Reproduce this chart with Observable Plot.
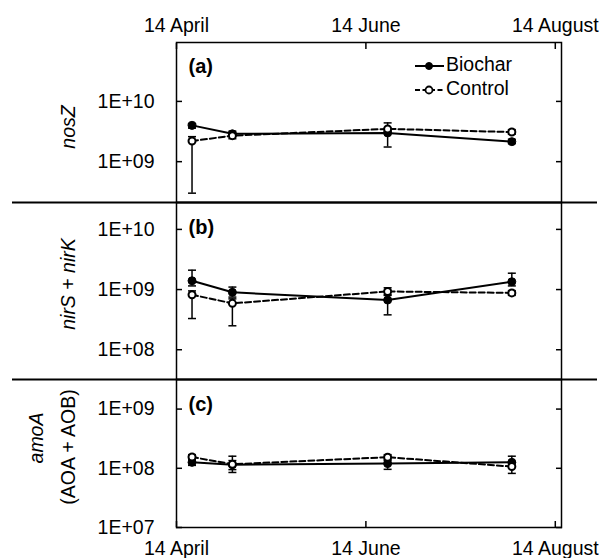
<!DOCTYPE html>
<html><head><meta charset="utf-8">
<script src="https://cdn.jsdelivr.net/npm/d3@7"></script>
<script src="https://cdn.jsdelivr.net/npm/@observablehq/plot@0.6"></script>
<style>
body{margin:0;background:#fff;}
#chart{position:relative;width:612px;height:558px;font-family:"Liberation Sans",Arial,sans-serif;}
#chart svg{position:absolute;left:0;}
</style></head><body><div id="chart"></div>
<script>
// ---- data ----
const sampleDates = ["2012-04-19", "2012-05-02", "2012-06-21", "2012-07-31"];
const tickDates = ["2012-04-14", "2012-06-14", "2012-08-14"];
const tickLabels = ["14 April", "14 June", "14 August"];
const xDomain = ["2012-04-14", "2012-08-16"];
const seriesNames = ["Biochar", "Control"];

// nosZ (a)
const nosZBiochar   = [4.0e9, 2.9e9, 3.0e9, 2.15e9];
const nosZBiocharLo = [3.6e9, 2.65e9, 1.75e9, 2.0e9];
const nosZBiocharHi = [4.3e9, 3.2e9, 3.5e9, 2.35e9];
const nosZControl   = [2.2e9, 2.7e9, 3.5e9, 3.1e9];
const nosZControlLo = [3.0e8, 2.4e9, 3.2e9, 2.85e9];
const nosZControlHi = [2.6e9, 3.0e9, 4.4e9, 3.4e9];
const nosZTicks = [1e9, 1e10];
const nosZDomain = [2.1e8, 9.5e10];

// nirS + nirK (b)
const nirBiochar   = [1.4e9, 9.0e8, 6.7e8, 1.35e9];
const nirBiocharLo = [1.15e9, 7.5e8, 3.8e8, 1.15e9];
const nirBiocharHi = [2.1e9, 1.1e9, 8.0e8, 1.87e9];
const nirControl   = [8.2e8, 5.9e8, 9.3e8, 8.8e8];
const nirControlLo = [3.3e8, 2.5e8, 8.2e8, 8.0e8];
const nirControlHi = [9.5e8, 7.0e8, 1.07e9, 9.6e8];
const nirTicks = [1e8, 1e9, 1e10];
const nirDomain = [3.2e7, 2.8e10];

// amoA (c)
const amoBiochar   = [1.26e8, 1.15e8, 1.2e8, 1.26e8];
const amoBiocharLo = [1.12e8, 9.5e7, 9.6e7, 1.1e8];
const amoBiocharHi = [1.4e8, 1.35e8, 1.4e8, 1.6e8];
const amoControl   = [1.55e8, 1.17e8, 1.54e8, 1.07e8];
const amoControlLo = [1.4e8, 8.5e7, 1.35e8, 8.2e7];
const amoControlHi = [1.7e8, 1.6e8, 1.7e8, 1.25e8];
const amoTicks = [1e7, 1e8, 1e9];
const amoDomain = [1e7, 3.16e9];

// ---- helpers ----
const FS = "19.5px";
const parse = s => new Date(s + "T00:00:00Z");
const ticks = tickDates.map(parse);
const tickFmt = d => tickLabels[ticks.findIndex(t => +t === +d)];
const yFmt = d => "1E+" + String(Math.round(Math.log10(d))).padStart(2, "0");
const cap = {draw(ctx) { ctx.moveTo(-4, 0); ctx.lineTo(4, 0); }};

function rows(b, bLo, bHi, c, cLo, cHi) {
  const out = [];
  sampleDates.forEach((d, i) => {
    out.push({series: seriesNames[0], date: parse(d), value: b[i], lo: bLo[i], hi: bHi[i]});
    out.push({series: seriesNames[1], date: parse(d), value: c[i], lo: cLo[i], hi: cHi[i]});
  });
  return out;
}

const W = 612, ML = 176, MR = 51;
const chart = document.getElementById("chart");

function panel({top, height, marginTop, marginBottom, domain, yTicks, data, label, labelDy, axis, divider}) {
  const bio = data.filter(d => d.series === "Biochar");
  const con = data.filter(d => d.series === "Control");
  const marks = [
    Plot.frame({stroke: "black", strokeWidth: 1.5}),
    Plot.axisY(yTicks, {anchor: "left", tickSize: 0, tickPadding: 22, tickFormat: yFmt, label: null}),
    Plot.axisY(yTicks, {anchor: "left", tickSize: -6, tickFormat: () => "", label: null, strokeWidth: 1.5}),
    Plot.axisY(yTicks, {anchor: "right", tickSize: -6, tickFormat: () => "", label: null, strokeWidth: 1.5}),
  ];
  if (axis) {
    marks.push(Plot.axisX(ticks, {anchor: axis, tickSize: 0, tickPadding: axis === "top" ? 11 : 14, tickFormat: tickFmt, label: null}));
    marks.push(Plot.axisX(ticks, {anchor: axis, tickSize: -6, tickFormat: () => "", label: null, strokeWidth: 1.5}));
  }
  if (divider) {
    marks.push(Plot.ruleY([domain[1]], {insetLeft: -164, insetRight: -36, stroke: "black", strokeWidth: 2}));
  }
  marks.push(
    Plot.ruleX(data, {x: "date", y1: "lo", y2: "hi", stroke: "black", strokeWidth: 1.5}),
    Plot.dot(data, {x: "date", y: "lo", symbol: cap, r: 4, fill: "none", stroke: "black", strokeWidth: 1.5}),
    Plot.dot(data, {x: "date", y: "hi", symbol: cap, r: 4, fill: "none", stroke: "black", strokeWidth: 1.5}),
    Plot.line(bio, {x: "date", y: "value", stroke: "black", strokeWidth: 2}),
    Plot.line(con, {x: "date", y: "value", stroke: "black", strokeWidth: 2, strokeDasharray: "6,3"}),
    Plot.dot(bio, {x: "date", y: "value", r: 4, fill: "black", stroke: "black", strokeWidth: 1}),
    Plot.dot(con, {x: "date", y: "value", r: 3.5, fill: "white", stroke: "black", strokeWidth: 2}),
    Plot.text([label], {frameAnchor: "top-left", dx: 12, dy: labelDy, lineAnchor: "middle", textAnchor: "start", fontWeight: "bold", fontSize: 20})
  );
  const svg = Plot.plot({
    width: W, height, marginLeft: ML, marginRight: MR, marginTop, marginBottom,
    x: {type: "utc", domain: xDomain.map(parse), axis: null},
    y: {type: "log", domain, axis: null},
    style: {fontFamily: "'Liberation Sans', Arial, sans-serif", fontSize: FS, background: "transparent", overflow: "visible", color: "black"},
    marks
  });
  svg.style.top = top + "px";
  chart.appendChild(svg);
  return svg;
}

const svgA = panel({top: 0, height: 204, marginTop: 42, marginBottom: 2, domain: nosZDomain, yTicks: nosZTicks,
  data: rows(nosZBiochar, nosZBiocharLo, nosZBiocharHi, nosZControl, nosZControlLo, nosZControlHi),
  label: "(a)", labelDy: 24, axis: "top", divider: false});
const svgB = panel({top: 200, height: 181, marginTop: 2, marginBottom: 2, domain: nirDomain, yTicks: nirTicks,
  data: rows(nirBiochar, nirBiocharLo, nirBiocharHi, nirControl, nirControlLo, nirControlHi),
  label: "(b)", labelDy: 25, axis: null, divider: true});
const svgC = panel({top: 377, height: 181, marginTop: 2, marginBottom: 31, domain: amoDomain, yTicks: amoTicks,
  data: rows(amoBiochar, amoBiocharLo, amoBiocharHi, amoControl, amoControlLo, amoControlHi),
  label: "(c)", labelDy: 25, axis: "bottom", divider: true});

// ---- y titles (mixed italic) ----
function ytitle(svg, x, y, parts) {
  const t = d3.select(svg).append("text")
    .attr("transform", `translate(${x},${y}) rotate(-90)`)
    .attr("text-anchor", "middle").attr("dominant-baseline", "middle")
    .attr("fill", "black").style("font-size", FS);
  parts.forEach(([s, it]) => t.append("tspan").text(s).style("font-style", it ? "italic" : "normal"));
}
ytitle(svgA, 70, 127, [["nosZ", true]]);
ytitle(svgB, 70, 84, [["nirS", true], [" + ", false], ["nirK", true]]);
ytitle(svgC, 38, 61, [["amoA", true]]);
ytitle(svgC, 70, 70, [["(AOA + AOB)", false]]);

// ---- legend ----
const lg = d3.select(svgA).append("g");
[["Biochar", 66, null, "black"], ["Control", 90, "5,2.5", "white"]].forEach(([name, y, dash, fill]) => {
  lg.append("line").attr("x1", 415).attr("x2", 444).attr("y1", y).attr("y2", y)
    .attr("stroke", "black").attr("stroke-width", 2).attr("stroke-dasharray", dash);
  lg.append("circle").attr("cx", 429).attr("cy", y).attr("r", 3.5)
    .attr("fill", fill).attr("stroke", "black").attr("stroke-width", fill === "white" ? 1.8 : 1);
  lg.append("text").attr("x", 446).attr("y", y).attr("dominant-baseline", "middle")
    .attr("text-anchor", "start")
    .attr("fill", "black").style("font-size", FS).text(name);
});
</script></body></html>
